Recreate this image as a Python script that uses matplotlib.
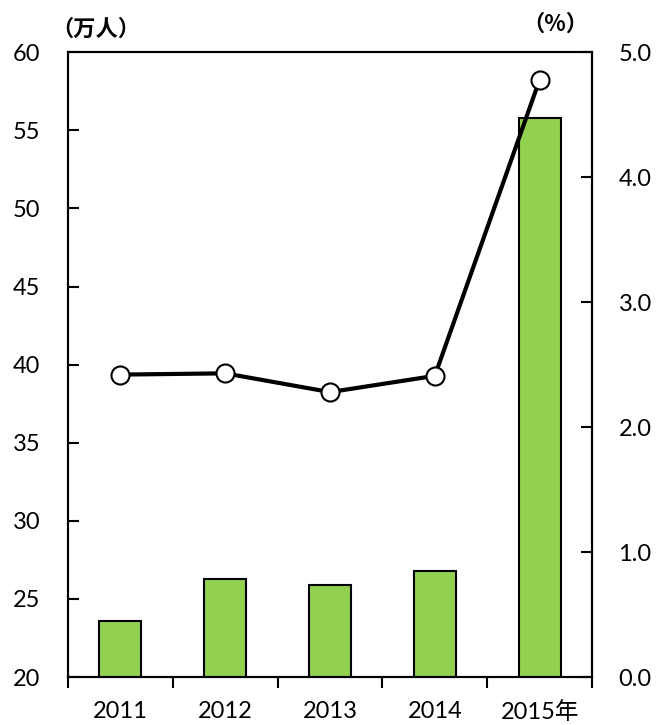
import numpy as np
import matplotlib.pyplot as plt

years = ["2011", "2012", "2013", "2014", "2015年"]
people = [23.6, 26.3, 25.9, 26.8, 55.8]        # 万人
share = [2.42, 2.43, 2.28, 2.41, 4.78]          # %

plt.rcParams["font.family"] = ["Lato", "Noto Sans CJK SC", "DejaVu Sans"]

fig = plt.figure(figsize=(6.59, 7.25), dpi=100)
ax = fig.add_axes([0.1032, 0.0662, 0.7952, 0.8618])

x = np.arange(len(years))
ax.bar(x, people, width=0.4, bottom=0, color="#92D050", edgecolor="black",
       linewidth=1.5, zorder=2)
ax.set_ylim(20, 60)
ax.set_xlim(-0.5, len(years) - 0.5)
ax.set_yticks(np.arange(20, 61, 5))

# boundary ticks outward, labels under the bars
ax.set_xticks(np.arange(-0.5, len(years), 1.0))
ax.set_xticklabels([])
ax.set_xticks(x, minor=True)
ax.set_xticklabels(years, minor=True)
ax.tick_params(axis="x", which="major", direction="out", length=8, width=1.5)
ax.tick_params(axis="x", which="minor", length=0, pad=17, labelsize=17)
ax.tick_params(axis="y", direction="in", length=8, width=1.5, pad=20,
               labelsize=17)

ax2 = ax.twinx()
ax2.plot(x, share, color="black", linewidth=3, marker="o", markersize=13,
         markerfacecolor="white", markeredgecolor="black",
         markeredgewidth=1.5, zorder=3)
ax2.set_ylim(0, 5)
ax2.set_yticks(np.arange(0, 5.1, 1.0))
ax2.set_yticklabels([f"{v:.1f}" for v in np.arange(0, 5.1, 1.0)])
ax2.yaxis.set_tick_params(which="major", direction="in", length=8,
                          width=1.5, pad=19, labelsize=17)

for a in (ax, ax2):
    for s in a.spines.values():
        s.set_linewidth(1.5)

fig.text(0.146, 0.960, "（万人）", ha="center", va="center", fontsize=16,
         fontweight="bold", family=["Noto Sans CJK SC"])
fig.text(0.843, 0.967, "（%）", ha="center", va="center", fontsize=16,
         fontweight="bold", family=["Noto Sans CJK SC"])

fig.savefig("out.png", dpi=100)
